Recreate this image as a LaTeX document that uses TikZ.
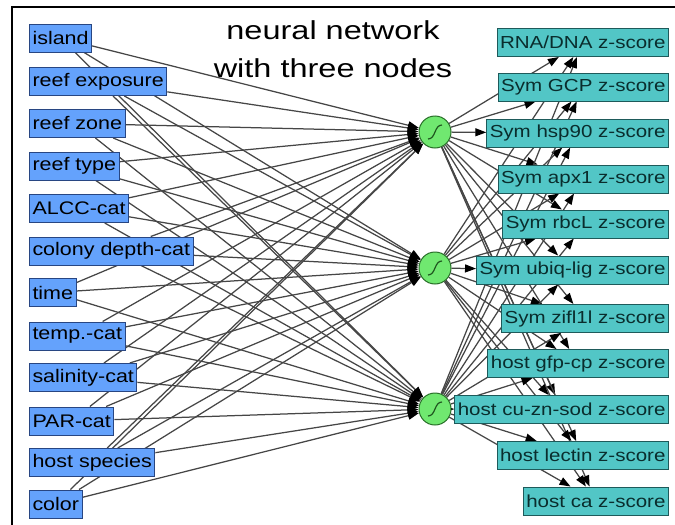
\documentclass[tikz,border=0pt]{standalone}
\usepackage{fontspec}
\setmainfont{Liberation Sans}
\newfontfamily\titlefont[FakeStretch=1.25]{Liberation Sans}
\newfontfamily\boxfont[FakeStretch=1.18]{Liberation Sans}
\usetikzlibrary{arrows.meta,backgrounds}
\definecolor{inblue}{RGB}{100,162,252}
\definecolor{inborder}{RGB}{40,70,130}
\definecolor{outteal}{RGB}{82,198,198}
\definecolor{outborder}{RGB}{30,90,90}
\definecolor{outtext}{RGB}{10,45,45}
\definecolor{hidgreen}{RGB}{112,232,112}
\definecolor{hidborder}{RGB}{40,110,40}
\definecolor{edgegray}{RGB}{70,70,70}
\tikzset{
  inbox/.style={draw=inborder, fill=inblue, line width=1pt, anchor=west,
    minimum height=28pt, inner xsep=3pt, inner ysep=0pt,
    font=\boxfont\fontsize{18.2pt}{20pt}\selectfont, text=black},
  outbox/.style={draw=outborder, fill=outteal, line width=1pt, anchor=east,
    minimum height=28pt, inner xsep=3pt, inner ysep=0pt,
    font=\boxfont\fontsize{17.4pt}{20pt}\selectfont, text=outtext},
  hid/.style={circle, draw=hidborder, fill=hidgreen, line width=1pt,
    minimum size=32pt, inner sep=0pt},
  conn/.style={draw=edgegray, line width=1.25pt,
    -{Triangle[length=11pt,width=8pt,color=black]}},
  titletext/.style={font=\titlefont\fontsize{26pt}{30pt}\selectfont, anchor=base},
  frame/.style={line width=2.5pt, draw=black}
}
\begin{document}
\begin{tikzpicture}[x=1pt,y=-1pt]
\useasboundingbox (0,0) rectangle (675,525);
\draw[frame] (12,525) -- (12,7) -- (675,7);

\node[titletext] (t1) at (333,39) {neural network};
\node[titletext] (t2) at (333,77) {with three nodes};

% inputs
\node[inbox] (i1) at (29,38) {island};
\node[inbox] (i2) at (29,81.5) {reef exposure};
\node[inbox] (i3) at (29,123.5) {reef zone};
\node[inbox] (i4) at (29,166) {reef type};
\node[inbox] (i5) at (29,208.5) {ALCC-cat};
\node[inbox] (i6) at (29,251) {colony depth-cat};
\node[inbox] (i7) at (29,292.5) {time};
\node[inbox] (i8) at (29,336) {temp.-cat};
\node[inbox] (i9) at (29,377.5) {salinity-cat};
\node[inbox] (i10) at (29,421) {PAR-cat};
\node[inbox] (i11) at (29,462.5) {host species};
\node[inbox] (i12) at (29,504) {color};

% hidden
\foreach \n/\y in {h1/132,h2/268,h3/409}{
  \node[hid] (\n) at (435,\y) {};
  \draw[hidborder!80!black, line width=1.2pt]
    ([shift={(-7,7)}]\n.center) .. controls ([shift={(1,7)}]\n.center) and ([shift={(-1,-7)}]\n.center) .. ([shift={(7,-7)}]\n.center);
}

% outputs
\node[outbox] (o1) at (669,42.5) {RNA/DNA z-score};
\node[outbox] (o2) at (669,87) {Sym GCP z-score};
\node[outbox] (o3) at (669,133) {Sym hsp90 z-score};
\node[outbox] (o4) at (669,179) {Sym apx1 z-score};
\node[outbox] (o5) at (669,224) {Sym rbcL z-score};
\node[outbox] (o6) at (669,270) {Sym ubiq-lig z-score};
\node[outbox] (o7) at (669,318.5) {Sym zifl1l z-score};
\node[outbox] (o8) at (669,363.5) {host gfp-cp z-score};
\node[outbox] (o9) at (669,409.5) {host cu-zn-sod z-score};
\node[outbox] (o10) at (669,455.5) {host lectin z-score};
\node[outbox] (o11) at (669,501) {host ca z-score};

\begin{scope}[on background layer]
\foreach \i in {1,...,12}{
  \foreach \h in {h1,h2,h3}{
    \draw[conn] (i\i) -- (\h);
  }
}
\foreach \h in {h1,h2,h3}{
  \foreach \o in {1,...,11}{
    \draw[conn] (\h) -- (o\o);
  }
}
\end{scope}
\end{tikzpicture}
\end{document}
